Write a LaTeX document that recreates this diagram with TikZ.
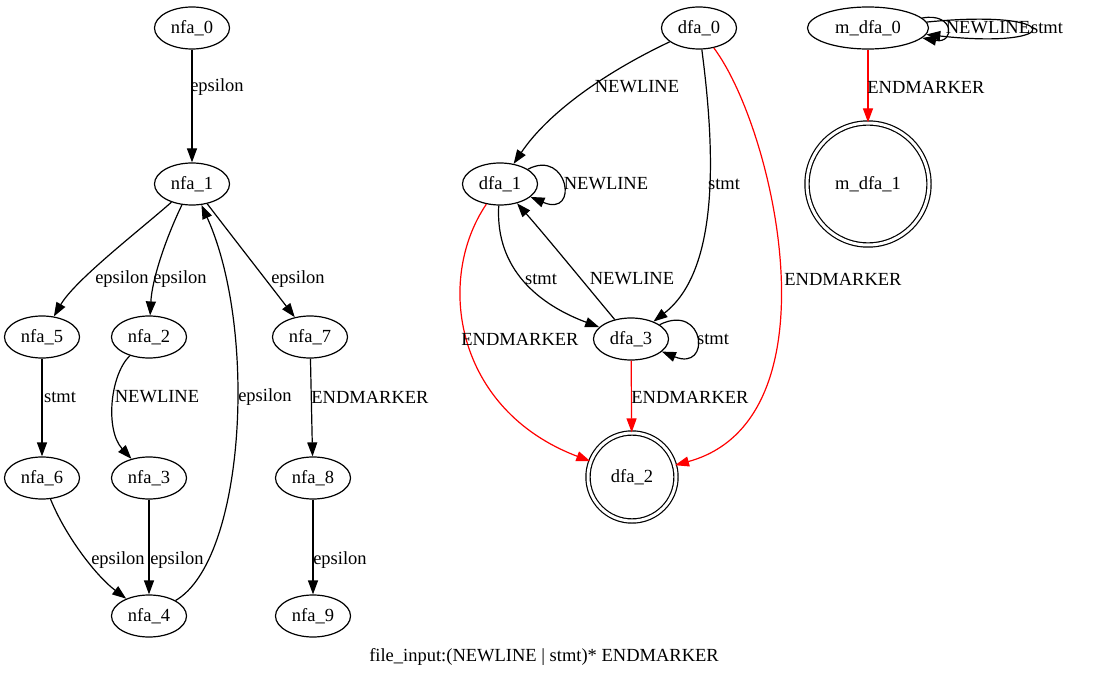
\documentclass[tikz,border=0pt]{standalone}
\usepackage{fontspec}
\setmainfont{Liberation Serif}
\usetikzlibrary{shapes.geometric, arrows.meta}
\tikzset{>={Triangle[length=14pt, width=10pt]}}
\tikzset{
  state/.style={ellipse, draw, line width=1.2pt, minimum width=75pt, minimum height=42pt, inner sep=0pt},
  final/.style={circle, draw, line width=1.2pt, double, double distance=3pt, inner sep=0pt},
  edge/.style={->, line width=1.2pt},
  redge/.style={->, line width=1.2pt, red},
  lbl/.style={inner sep=0pt, text=black}
}

\begin{document}
\begin{tikzpicture}[x=1pt, y=-1pt, font=\fontsize{18.5}{20}\selectfont]
      \useasboundingbox (0, 0) rectangle (1096, 679);

      % nfa
      \node (nfa0) at (192, 28) [state] {nfa\_0};
      \node (nfa1) at (192, 184) [state] {nfa\_1};
      \node (nfa5) at (42, 337) [state] {nfa\_5};
      \node (nfa2) at (149, 337) [state] {nfa\_2};
      \node (nfa7) at (310, 337) [state] {nfa\_7};
      \node (nfa6) at (42, 478) [state] {nfa\_6};
      \node (nfa3) at (149, 478) [state] {nfa\_3};
      \node (nfa8) at (313, 478) [state] {nfa\_8};
      \node (nfa4) at (149, 616) [state] {nfa\_4};
      \node (nfa9) at (313, 616) [state] {nfa\_9};

      \draw [edge] (nfa0)--(nfa1) node (l1) at (217, 87) [lbl] {epsilon};
      \draw [edge] (nfa1) .. controls (140, 230) and (75, 280) .. (nfa5) node (l2) at (122, 279) [lbl] {epsilon};
      \draw [edge] (nfa1) .. controls (165, 240) and (152, 280) .. (nfa2) node (l3) at (180, 279) [lbl] {epsilon};
      \draw [edge] (nfa1) .. controls (235, 240) and (270, 285) .. (nfa7) node (l4) at (298, 279) [lbl] {epsilon};
      \draw [edge] (nfa5)--(nfa6) node (l5) at (60, 397) [lbl] {stmt};
      \draw [edge] (nfa2) .. controls (110, 375) and (105, 430) .. (nfa3) node (l6) at (157, 397) [lbl] {NEWLINE};
      \draw [edge] (nfa7)--(nfa8) node (l7) at (370, 397) [lbl] {ENDMARKER};
      \draw [edge] (nfa6) .. controls (65, 535) and (95, 575) .. (nfa4) node (l8) at (118, 560) [lbl] {epsilon};
      \draw [edge] (nfa3)--(nfa4) node (l9) at (177, 560) [lbl] {epsilon};
      \draw [edge] (nfa4) .. controls (245, 560) and (258, 330) .. (nfa1) node (l10) at (265, 397) [lbl] {epsilon};
      \draw [edge] (nfa8)--(nfa9) node (l11) at (340, 560) [lbl] {epsilon};

      % dfa
      \node (dfa0) at (699, 28) [state] {dfa\_0};
      \node (dfa1) at (500, 184) [state] {dfa\_1};
      \node (dfa3) at (631, 339) [state] {dfa\_3};
      \node (dfa2) at (632, 477) [final, minimum size=88pt] {dfa\_2};

      \draw [edge] (dfa0) .. controls (610, 70) and (550, 110) .. (dfa1) node (l12) at (637, 87) [lbl] {NEWLINE};
      \draw [edge] (dfa1) .. controls (568, 148) and (580, 218) .. (dfa1) node (l13) at (606, 184) [lbl] {NEWLINE};
      \draw [edge] (dfa0) .. controls (715, 150) and (720, 270) .. (dfa3) node (l14) at (724, 184) [lbl] {stmt};
      \draw [redge] (dfa0) .. controls (775, 130) and (840, 420) .. (dfa2) node (l15) at (843, 279) [lbl] {ENDMARKER};
      \draw [edge] (dfa1) .. controls (495, 270) and (540, 305) .. (dfa3) node (l16) at (541, 279) [lbl] {stmt};
      \draw [edge] (dfa3) .. controls (590, 290) and (545, 235) .. (dfa1) node (l17) at (632, 279) [lbl] {NEWLINE};
      \draw [redge] (dfa1) .. controls (435, 280) and (455, 410) .. (dfa2) node (l18) at (520, 339) [lbl] {ENDMARKER};
      \draw [edge] (dfa3) .. controls (705, 302) and (712, 372) .. (dfa3) node (l19) at (713, 339) [lbl] {stmt};
      \draw [redge] (dfa3)--(dfa2) node (l20) at (690, 397) [lbl] {ENDMARKER};

      % minimal dfa
      \node (mdfa0) at (868, 28) [state, minimum width=121pt] {m\_dfa\_0};
      \node (mdfa1) at (868, 184) [final, minimum size=122pt] {m\_dfa\_1};

      \draw [edge] (mdfa0) .. controls (955, 12) and (955, 44) .. (mdfa0) node (l21) at (988, 28) [lbl] {NEWLINE};
      \draw [edge] (mdfa0) .. controls (1066, 8) and (1066, 50) .. (mdfa0) node (l22) at (1047, 28) [lbl] {stmt};
      \draw [redge] (mdfa0)--(mdfa1) node (l23) at (926, 87) [lbl] {ENDMARKER};

      \node (title) at (544, 657) [lbl] {file\_input:(NEWLINE | stmt)* ENDMARKER};
    \end{tikzpicture}
\end{document}
